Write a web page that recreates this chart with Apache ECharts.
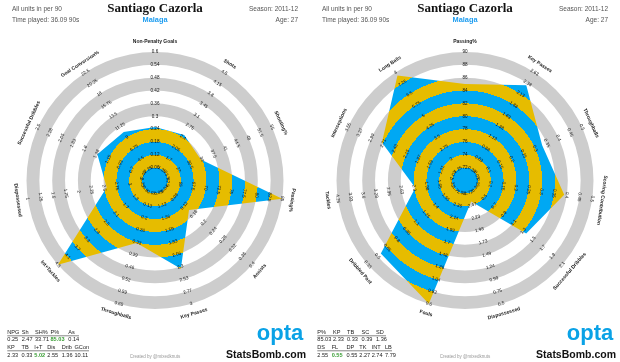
<!DOCTYPE html>
<html><head><meta charset="utf-8">
<script src="https://cdn.jsdelivr.net/npm/echarts@6/dist/echarts.min.js"></script>
<style>html,body{margin:0;padding:0;background:#fff}#c{width:620px;height:362px}</style>
</head><body><div id="c"></div>
<script>
// ---------------- DATA ----------------
const leftAxes = ['Non-Penalty Goals','Shots','Shooting%','Passing%','Assists','Key Passes','Throughballs','Int+Tackles','Dispossessed','Successful Dribbles','Goal Conversion%'];
const leftValues = [0.25, 2.47, 33.71, 85.03, 0.14, 2.33, 0.33, 5.02, 2.55, 1.36, 10.11];
const leftCenterVals = [0, 1, 20, 60, 0, 0.65, 0, 0.5, 3.5, 0.25, 0];
const leftOuterVals = [0.6, 4.5, 55, 85, 0.4, 3, 0.65, 4.5, 1, 2.5, 22.5];
// tick labels, outermost ring first
const leftTickLabels = [
  ['0.6','0.54','0.48','0.42','0.36','0.3','0.24','0.18','0.12','0.06'],
  ['4.5','4.15','3.8','3.45','3.1','2.75','2.4','2.05','1.7','1.35'],
  ['55','51.5','48','44.5','41','37.5','34','30.5','27','23.5'],
  ['85','82.5','80','77.5','75','72.5','70','67.5','65','62.5'],
  ['0.4','0.36','0.32','0.28','0.24','0.2','0.16','0.12','0.08','0.04'],
  ['3','2.77','2.53','2.3','2.06','1.83','1.59','1.36','1.12','0.89'],
  ['0.65','0.59','0.52','0.46','0.39','0.33','0.26','0.2','0.13','0.07'],
  ['4.5','4.1','3.7','3.3','2.9','2.5','2.1','1.7','1.3','0.9'],
  ['1','1.25','1.5','1.75','2','2.25','2.5','2.75','3','3.25'],
  ['2.5','2.28','2.05','1.83','1.6','1.38','1.15','0.93','0.7','0.48'],
  ['22.5','20.25','18','15.75','13.5','11.25','9','6.75','4.5','2.25']
];
const leftTableHead1 = ['NPG','Sh','SH%','P%','As'];
const leftTableHead2 = ['KP','TB','I+T','Dis','Drib','GCon'];
const leftHighlight = [3, 7];

const rightAxes = ['Passing%','Key Passes','Throughballs','Scoring Contribution','Successful Dribbles','Dispossessed','Fouls','Dribbled Past','Tackles','Interceptions','Long Balls'];
const rightValues = [85.03, 2.33, 0.33, 0.39, 1.36, 2.55, 0.55, 0.55, 2.27, 2.74, 7.79];
const rightCenterVals = [70, 0.125, 0, 0, 0.1, 2.97, 2.8, 1.85, 1, 0.75, 0.5];
const rightOuterVals = [90, 2.625, 0.5, 0.5, 2.1, 0.5, 0.6, 0.35, 4.25, 3.55, 8];
const rightTickLabels = [
  ['90','88','86','84','82','80','78','76','74','72'],
  ['2.63','2.38','2.13','1.88','1.63','1.38','1.13','0.88','0.63','0.38'],
  ['0.5','0.45','0.4','0.35','0.3','0.25','0.2','0.15','0.1','0.05'],
  ['0.5','0.45','0.4','0.35','0.3','0.25','0.2','0.15','0.1','0.05'],
  ['2.1','1.9','1.7','1.5','1.3','1.1','0.9','0.7','0.5','0.3'],
  ['0.5','0.75','0.99','1.24','1.49','1.73','1.98','2.23','2.47','2.72'],
  ['0.6','0.82','1.04','1.26','1.48','1.7','1.92','2.14','2.36','2.58'],
  ['0.35','0.5','0.65','0.8','0.95','1.1','1.25','1.4','1.55','1.7'],
  ['4.25','3.93','3.6','3.28','2.95','2.63','2.3','1.98','1.65','1.33'],
  ['3.55','3.27','2.99','2.71','2.43','2.15','1.87','1.59','1.31','1.03'],
  ['8','7.25','6.5','5.75','5','4.25','3.5','2.75','2','1.25']
];
const rightTableHead1 = ['P%','KP','TB','SC','SD'];
const rightTableHead2 = ['DS','FL','DP','TK','INT','LB'];
const rightHighlight = [6];

const playerName = 'Santiago Cazorla';
const teamName = 'Malaga';
const seasonText = 'Season: 2011-12';
const ageText = 'Age: 27';
const unitsText = 'All units in per 90';
const timeText = 'Time played: 36.09 90s';

// ---------------- STYLE / LAYOUT ----------------
const BLUE = '#00A8F3', YELLOW = '#E6BC00', GRAY = '#CDCDCD', GREEN = '#3A9E35';
const FONT = 'Liberation Sans';
const N = 11, R = 128.5;
const LEFT_C = [155, 180.5], RIGHT_C = [465, 180.5];
const ORDER = [0]; for (let j = 1; j < N; j++) ORDER.push(N - j); // clockwise placement

function textRot(t) { if (t <= 100) return -t; if (t < 265) return 180 - t; return 360 - t; }

function makeIndicators(names, cv, ov, ticks, withText) {
  return ORDER.map(i => {
    const inv = ov[i] < cv[i];
    const mn = inv ? -cv[i] : cv[i];
    const mx = inv ? -ov[i] : ov[i];
    const rot = textRot(360 * i / N);
    const labels = ticks[i];
    return {
      name: names[i], min: mn, max: mx, nameRotate: rot,
      axisLabel: {
        show: withText, rotate: rot,
        formatter: function (v) {
          const lvl = Math.round((v - mn) / (mx - mn) * 10);
          return lvl <= 0 || lvl > 10 ? '' : labels[10 - lvl];
        }
      }
    };
  });
}
function seriesValues(vals, cv, ov) {
  return ORDER.map(i => {
    const lo = Math.min(cv[i], ov[i]), hi = Math.max(cv[i], ov[i]);
    const v = Math.max(lo, Math.min(hi, vals[i]));
    return ov[i] < cv[i] ? -v : v;
  });
}
function bandGradient(c) {
  const stops = [];
  for (let k = 0; k < 10; k++) {
    const col = k % 2 === 0 ? BLUE : YELLOW;
    stops.push({ offset: k / 10, color: col }, { offset: (k + 1) / 10, color: col });
  }
  return { type: 'radial', x: c[0], y: c[1], r: R, global: true, colorStops: stops };
}
function baseRadar(c, ind) {
  return {
    center: c, radius: R, shape: 'circle', splitNumber: 10, startAngle: 90, z: 0,
    indicator: ind,
    axisName: { show: false },
    axisLabel: { show: false },
    axisLine: { show: false }, axisTick: { show: false }, splitLine: { show: false },
    splitArea: { show: true, areaStyle: { color: ['rgba(0,0,0,0)', GRAY] } }
  };
}
function labelRadar(c, ind) {
  return {
    center: c, radius: R, shape: 'circle', splitNumber: 10, startAngle: 90, z: 10,
    indicator: ind,
    axisNameGap: 10,
    axisName: { show: true, color: '#222', fontSize: 5, fontWeight: 'bold', fontFamily: FONT, align: 'center', verticalAlign: 'middle' },
    axisLabel: { show: true, margin: 0, color: '#111', fontSize: 4.6, fontFamily: FONT, align: 'center', verticalAlign: 'middle', showMinLabel: false },
    axisLine: { show: false }, axisTick: { show: false }, splitLine: { show: false }, splitArea: { show: false }
  };
}

function txt(x, y, text, st) {
  return { type: 'text', x: x, y: y, silent: true, z: 20,
    style: Object.assign({ text: text, fontFamily: FONT, fontSize: 6.5, fill: '#555', align: 'left', verticalAlign: 'middle' }, st) };
}
function header(dx) {
  return [
    txt(12 + dx, 9.7, unitsText, {}),
    txt(12 + dx, 20, timeText, {}),
    txt(298 + dx, 9.7, seasonText, { align: 'right' }),
    txt(298 + dx, 20, ageText, { align: 'right' }),
    txt(155 + dx, 8.5, playerName, { align: 'center', fontFamily: 'Liberation Serif', fontWeight: 'bold', fontSize: 13, fill: '#111' }),
    txt(155 + dx, 20, teamName, { align: 'center', fontWeight: 'bold', fontSize: 7.4, fill: '#1E9DF0' }),
    txt(155 + dx, 357, 'Created by @mixedknuts', { align: 'center', fontSize: 4.5, fill: '#999' }),
    txt(280 + dx, 334, 'opta', { align: 'center', fontWeight: 'bold', fontSize: 22, fill: '#0AA2E6' }),
    txt(266 + dx, 355, 'StatsBomb.com', { align: 'center', fontWeight: 'bold', fontSize: 10.5, fill: '#111' })
  ];
}
function table(heads1, heads2, vals, hl, xs1, xs2, lineEnd1, lineEnd2) {
  const out = [];
  const fs = 5.6;
  heads1.forEach((h, k) => {
    out.push(txt(xs1[k], 332.8, h, { fontSize: fs, fill: '#222' }));
    out.push(txt(xs1[k], 339.5, vals[k].toFixed(2), { fontSize: fs, fill: hl.includes(k) ? GREEN : '#222', fontWeight: hl.includes(k) ? 'bold' : 'normal' }));
  });
  heads2.forEach((h, k) => {
    const idx = heads1.length + k;
    out.push(txt(xs2[k], 347.8, h, { fontSize: fs, fill: '#222' }));
    out.push(txt(xs2[k], 355, vals[idx].toFixed(2), { fontSize: fs, fill: hl.includes(idx) ? GREEN : '#222', fontWeight: hl.includes(idx) ? 'bold' : 'normal' }));
  });
  out.push({ type: 'line', silent: true, z: 20, shape: { x1: xs1[0], y1: 335.8, x2: lineEnd1, y2: 335.8 }, style: { stroke: '#333', lineWidth: 0.6 } });
  out.push({ type: 'line', silent: true, z: 20, shape: { x1: xs2[0], y1: 350.8, x2: lineEnd2, y2: 350.8 }, style: { stroke: '#333', lineWidth: 0.6 } });
  return out;
}

const chart = echarts.init(document.getElementById('c'), null, { renderer: 'canvas' });
chart.setOption({
  animation: false,
  backgroundColor: '#fff',
  radar: [
    baseRadar(LEFT_C, makeIndicators(leftAxes, leftCenterVals, leftOuterVals, leftTickLabels, false)),
    baseRadar(RIGHT_C, makeIndicators(rightAxes, rightCenterVals, rightOuterVals, rightTickLabels, false)),
    labelRadar(LEFT_C, makeIndicators(leftAxes, leftCenterVals, leftOuterVals, leftTickLabels, true)),
    labelRadar(RIGHT_C, makeIndicators(rightAxes, rightCenterVals, rightOuterVals, rightTickLabels, true))
  ],
  series: [
    { type: 'radar', radarIndex: 0, silent: true, symbol: 'none', z: 2,
      lineStyle: { width: 0, opacity: 0 }, areaStyle: { color: bandGradient(LEFT_C), opacity: 1 },
      data: [{ value: seriesValues(leftValues, leftCenterVals, leftOuterVals) }] },
    { type: 'radar', radarIndex: 1, silent: true, symbol: 'none', z: 2,
      lineStyle: { width: 0, opacity: 0 }, areaStyle: { color: bandGradient(RIGHT_C), opacity: 1 },
      data: [{ value: seriesValues(rightValues, rightCenterVals, rightOuterVals) }] }
  ],
  graphic: { elements: [].concat(
    header(0), header(310),
    table(leftTableHead1, leftTableHead2, leftValues, leftHighlight, [7.3, 21.7, 35, 50.5, 68.3], [7.3, 21.5, 34.3, 47.3, 61.7, 74.5], 79, 89),
    table(rightTableHead1, rightTableHead2, rightValues, rightHighlight, [317.3, 333, 347, 361.5, 376], [317.3, 331.7, 346.5, 359.3, 371.7, 385], 386, 392)
  ) }
});
</script></body></html>
